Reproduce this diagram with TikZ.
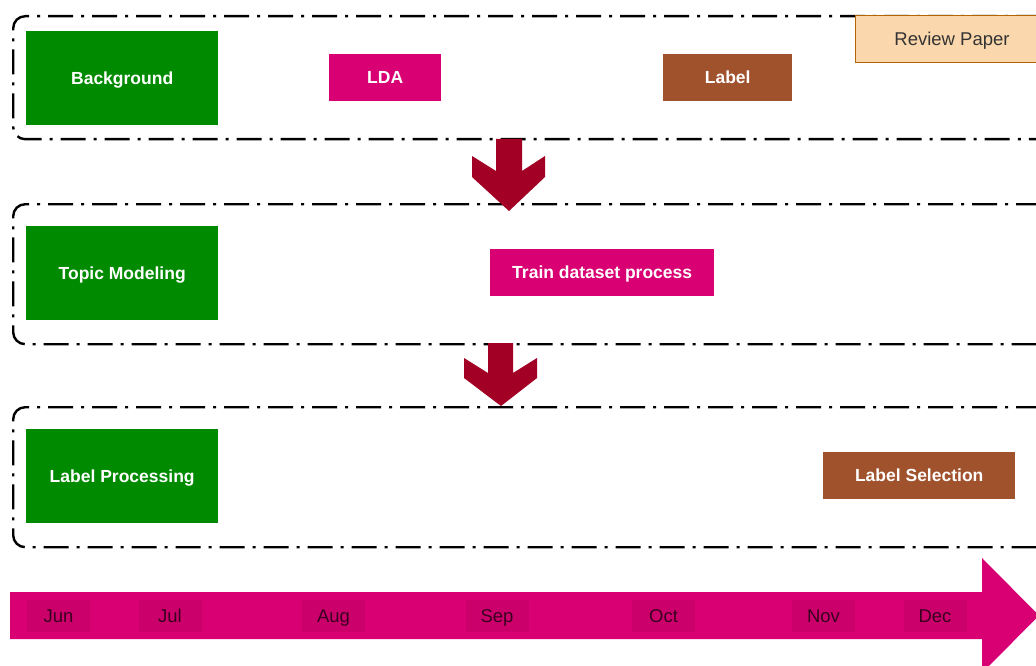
\documentclass[tikz,border=0pt]{standalone}
\usepackage{fontspec}
\setmainfont{Liberation Sans}
\definecolor{dgreen}{HTML}{008A00}
\definecolor{dpink}{HTML}{D80073}
\definecolor{dbrown}{HTML}{A0522D}
\definecolor{dpeach}{HTML}{FAD7AC}
\definecolor{dpeachline}{HTML}{B46504}
\definecolor{dred}{HTML}{A20025}
\definecolor{monthbox}{HTML}{CC006B}
\definecolor{monthtext}{HTML}{3A0020}
\tikzset{
  phase/.style={draw=black, line width=2.4pt, rounded corners=12pt,
    dash pattern=on 25pt off 8pt on 3pt off 8pt, anchor=north west, inner sep=0pt},
  bigbox/.style={fill=dgreen, text=white, font=\fontsize{17.5}{20}\selectfont\bfseries,
    text height=12.5pt, text depth=0pt,
    minimum width=192pt, minimum height=94pt, inner sep=0pt, anchor=north west},
  task/.style={text=white, font=\fontsize{17.5}{20}\selectfont\bfseries,
    text height=12.5pt, text depth=0pt,
    minimum height=47pt, inner sep=0pt, anchor=north west},
  month/.style={fill=monthbox, text=monthtext, font=\fontsize{18.5}{20}\selectfont,
    text height=13.2pt, text depth=0pt,
    minimum width=63pt, minimum height=32pt, inner sep=0pt},
  downarrow/.style={fill=dred, draw=none}
}
\begin{document}
\begin{tikzpicture}[x=1pt,y=-1pt]
\useasboundingbox (0,0) rectangle (1036,666);
\clip (0,0) rectangle (1036,666);
\fill[white] (0,0) rectangle (1036,666);

% phase frames
\node[phase, minimum width=1040pt, minimum height=123pt] (p1) at (12,15) {};
\node[phase, minimum width=1040pt, minimum height=140pt] (p2) at (12,203) {};
\node[phase, minimum width=1040pt, minimum height=140pt] (p3) at (12,406) {};

% phase 1
\node[bigbox] (bg) at (26,31) {Background};
\node[task, fill=dpink, minimum width=112pt] (lda) at (329,54) {LDA};
\node[task, fill=dbrown, minimum width=129pt] (lbl) at (663,54) {Label};
\node[fill=dpeach, draw=dpeachline, line width=1.2pt,
  minimum width=200pt, minimum height=47pt,
  inner sep=0pt, anchor=north west] (rp) at (855,15) {};
\node[text=black!80, font=\fontsize{18.5}{20}\selectfont,
  text height=13.2pt, text depth=0pt, inner sep=0pt] (rpt) at (952,39) {Review Paper};

% phase 2
\node[bigbox] (tm) at (26,226) {Topic Modeling};
\node[task, fill=dpink, minimum width=224pt] (tdp) at (490,249) {Train dataset process};

% phase 3
\node[bigbox] (lp) at (26,429) {Label Processing};
\node[task, fill=dbrown, minimum width=192pt] (ls) at (823,452) {Label Selection};

% down arrows
\fill[downarrow] (496,139) -- (522,139) -- (522,171) -- (545,156) -- (545,177)
  -- (509,211) -- (472,177) -- (472,156) -- (496,171) -- cycle;
\fill[downarrow] (488,343) -- (513,343) -- (513,373) -- (537,358) -- (537,378)
  -- (501,406) -- (464,378) -- (464,358) -- (488,373) -- cycle;

% timeline
\fill[dpink] (10,592) -- (982,592) -- (982,558) -- (1039,615.5) -- (982,673)
  -- (982,639) -- (10,639) -- cycle;
\node[month] (jun) at (58.5,616) {Jun};
\node[month] (jul) at (170,616) {Jul};
\node[month] (aug) at (333.5,616) {Aug};
\node[month] (sep) at (497,616) {Sep};
\node[month] (oct) at (663.5,616) {Oct};
\node[month] (nov) at (823.5,616) {Nov};
\node[month] (dec) at (935,616) {Dec};
\end{tikzpicture}
\end{document}
